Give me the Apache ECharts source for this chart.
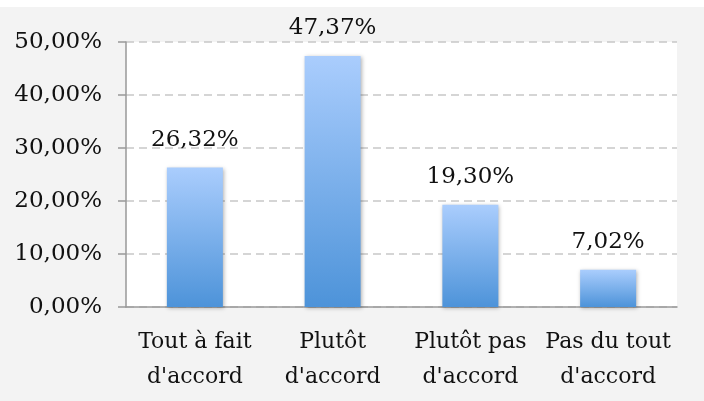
<!DOCTYPE html>
<html><head><meta charset="utf-8">
<script src="https://cdn.jsdelivr.net/npm/echarts@6/dist/echarts.min.js"></script>
<style>html,body{margin:0;padding:0;background:#fff;}#c{position:absolute;left:0;top:7px;width:704px;height:394px;background:#f3f3f3;}</style>
</head><body><div id="c"></div>
<script>
const categories = ["Tout à fait\nd'accord", "Plutôt\nd'accord", "Plutôt pas\nd'accord", "Pas du tout\nd'accord"];
const values = [26.32, 47.37, 19.30, 7.02];
const yTicks = { min: 0, max: 50, interval: 10 };
const fmt = v => v.toFixed(2).replace('.', ',') + '%';
const font = 'DejaVu Serif';
const chart = echarts.init(document.getElementById('c'));
chart.setOption({
  animation: false,
  grid: { left: 126, right: 27, top: 35, bottom: 94, show: true, backgroundColor: '#fff', borderWidth: 0 },
  xAxis: {
    type: 'category', data: categories,
    axisLine: { lineStyle: { color: '#999', width: 1.5 } },
    axisTick: { length: 7, lineStyle: { color: '#999', width: 1.5 } },
    axisLabel: { interval: 0, color: '#111', fontFamily: font, fontSize: 22, lineHeight: 35, margin: 18 }
  },
  yAxis: {
    type: 'value', min: yTicks.min, max: yTicks.max, interval: yTicks.interval,
    axisLine: { show: true, lineStyle: { color: '#999', width: 1.5 } },
    axisTick: { show: true, length: 8, lineStyle: { color: '#999', width: 1.5 } },
    axisLabel: { color: '#111', fontFamily: font, fontSize: 23, margin: 24, formatter: fmt },
    splitLine: { lineStyle: { color: '#c8c8c8', type: [8, 5], width: 1.5 } }
  },
  series: [{
    type: 'bar', data: values, barWidth: 56,
    itemStyle: {
      color: new echarts.graphic.LinearGradient(0, 0, 0, 1, [{ offset: 0, color: '#aacdfd' }, { offset: 1, color: '#4d93d9' }]),
      shadowBlur: 4, shadowColor: 'rgba(0,0,0,0.3)', shadowOffsetX: 1, shadowOffsetY: 1
    },
    label: { show: true, position: 'top', distance: 16, color: '#111', fontFamily: font, fontSize: 23, formatter: p => fmt(p.value) }
  }]
});
</script></body></html>
